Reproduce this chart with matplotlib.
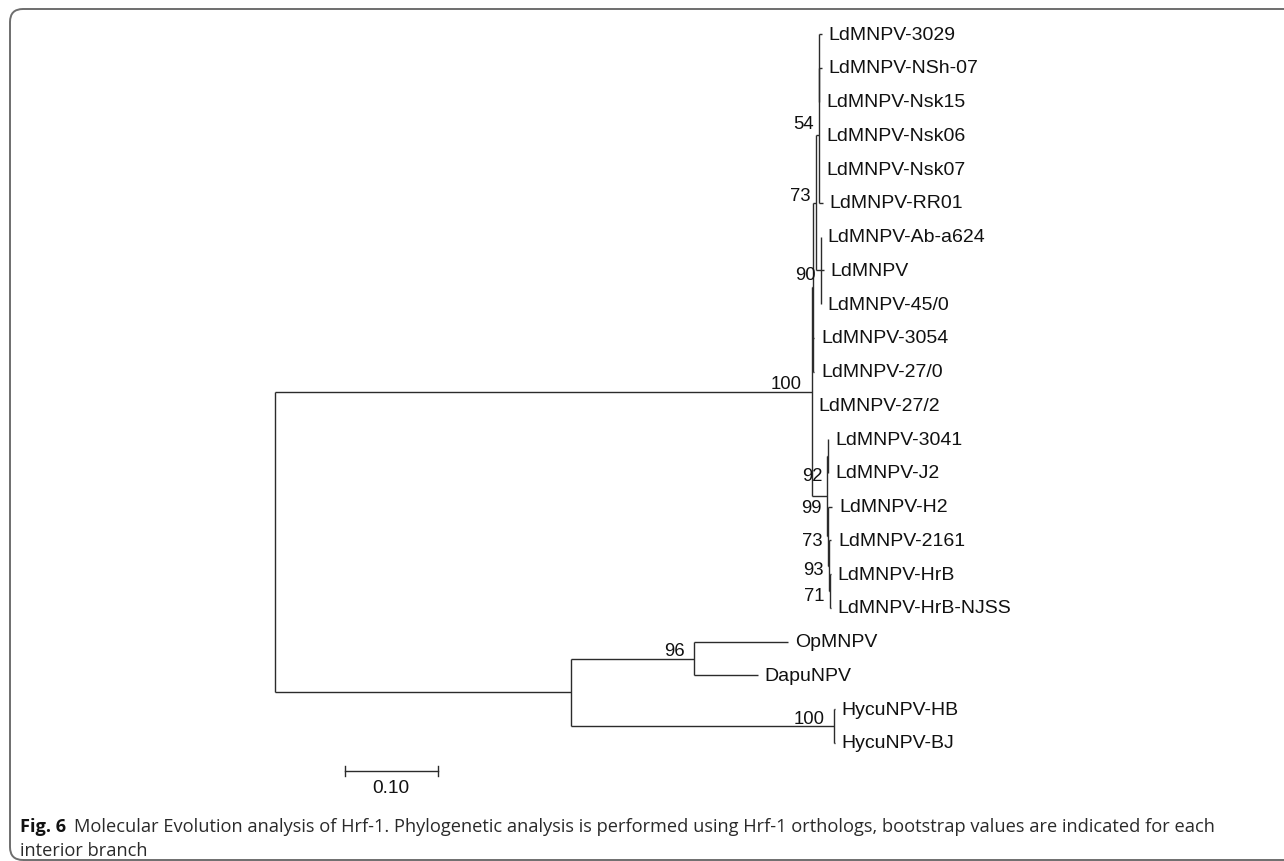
import matplotlib
matplotlib.use('Agg')
import matplotlib.pyplot as plt
from matplotlib.patches import FancyBboxPatch
from matplotlib.transforms import IdentityTransform

plt.rcParams['font.family'] = 'Liberation Sans'

# tips, top to bottom
tip_names = ['LdMNPV-3029', 'LdMNPV-NSh-07', 'LdMNPV-Nsk15', 'LdMNPV-Nsk06',
             'LdMNPV-Nsk07', 'LdMNPV-RR01', 'LdMNPV-Ab-a624', 'LdMNPV',
             'LdMNPV-45/0', 'LdMNPV-3054', 'LdMNPV-27/0', 'LdMNPV-27/2',
             'LdMNPV-3041', 'LdMNPV-J2', 'LdMNPV-H2', 'LdMNPV-2161',
             'LdMNPV-HrB', 'LdMNPV-HrB-NJSS', 'OpMNPV', 'DapuNPV',
             'HycuNPV-HB', 'HycuNPV-BJ']
tip_parent = ['Q', 'Q', 'Q', 'A54', 'A54', 'A54', 'B90', 'B90', 'B90',
              'X', 'X', 'Ld', 'L92', 'L92', 'L73', 'L93', 'L71', 'L71',
              'OD', 'OD', 'Hy', 'Hy']
tip_length = [0.003, 0.003, 0.0, 0.0, 0.0, 0.004, 0.0, 0.003, 0.0,
              0.002, 0.002, 0.0, 0.0, 0.0, 0.004, 0.002, 0.001, 0.001,
              0.101, 0.068, 0.001, 0.001]

# internal nodes (parents listed before children)
node_names = ['root', 'Ld', 'X', 'A73', 'A54', 'Q', 'B90', 'L99', 'L92',
              'L73', 'L93', 'L71', 'Out', 'OD', 'Hy']
node_parent = [None, 'root', 'Ld', 'X', 'A73', 'A54', 'A73', 'Ld', 'L99',
               'L99', 'L73', 'L93', 'root', 'Out', 'Out']
node_length = [0.0, 0.577, 0.001, 0.004, 0.003, 0.0, 0.005, 0.017, 0.001,
               0.001, 0.001, 0.0005, 0.318, 0.133, 0.283]
node_support = [None, 100, None, 73, 54, None, 90, 99, 92, 73, 93, 71,
                None, 96, 100]

scale_length = 0.10

# layout: 930 px per substitution unit, root at x=275 px, rows 33.76 px apart
W, H = 1284, 862
px_unit = 930.0
root_px = 275.0
row_px = 33.76
top_px = 35.0

fig = plt.figure(figsize=(W / 100, H / 100), dpi=100)
ax = fig.add_axes([0, 0, 1, 1])
ax.set_xlim(-root_px / px_unit, (W - root_px) / px_unit)
ax.set_ylim((H - top_px) / row_px, -top_px / row_px)
ax.axis('off')

# x positions
nx = {}
for n, p, l in zip(node_names, node_parent, node_length):
    nx[n] = 0.0 if p is None else nx[p] + l
tx = [nx[p] + l for p, l in zip(tip_parent, tip_length)]
ty = list(range(len(tip_names)))

# y positions (children come after parents, so go backwards)
child_y = {n: [] for n in node_names}
for p, y in zip(tip_parent, ty):
    child_y[p].append(y)
ny = {}
for n, p in reversed(list(zip(node_names, node_parent))):
    ny[n] = (min(child_y[n]) + max(child_y[n])) / 2
    if p is not None:
        child_y[p].append(ny[n])

lc = '#2b2b2b'
lw = 1.0

# branches
for p, x, y in zip(tip_parent, tx, ty):
    ax.plot([nx[p], x], [y, y], color=lc, lw=lw, solid_capstyle='butt')
for n, p in zip(node_names, node_parent):
    ax.plot([nx[n], nx[n]], [min(child_y[n]), max(child_y[n])], color=lc,
            lw=lw, solid_capstyle='butt')
    if p is not None:
        ax.plot([nx[p], nx[n]], [ny[n], ny[n]], color=lc, lw=lw,
                solid_capstyle='butt')

# tip labels
for name, x, y in zip(tip_names, tx, ty):
    ax.annotate(name, (x, y), xytext=(5, 0), textcoords='offset points',
                ha='left', va='center', fontsize=14, color='#111111')

# bootstrap values; crowded ones get nudged like the original layout
label_dy = {'A54': -11.5, 'A73': -8, 'L92': 11, 'L99': 5}
for n, l, s in zip(node_names, node_length, node_support):
    if s is None:
        continue
    if l * px_unit > 30:
        ax.annotate(str(s), (nx[n], ny[n]), xytext=(-7, 2.5),
                    textcoords='offset points', ha='right', va='baseline',
                    fontsize=13.3, color='#111111')
    else:
        dy = -3 - label_dy.get(n, 0)
        ax.annotate(str(s), (nx[n], ny[n]), xytext=(-4, dy),
                    textcoords='offset points', ha='right', va='center',
                    fontsize=13.3, color='#111111')

# scale bar
sx0 = 0.075
sy = len(tip_names) - 1 + 0.83
ax.plot([sx0, sx0 + scale_length], [sy, sy], color=lc, lw=lw)
for xx in (sx0, sx0 + scale_length):
    ax.plot([xx, xx], [sy - 0.15, sy + 0.15], color=lc, lw=lw)
ax.annotate('%.2f' % scale_length, (sx0 + scale_length / 2, sy),
            xytext=(0, -6), textcoords='offset points', ha='center',
            va='top', fontsize=13.8, color='#111111')

# panel frame
frame = FancyBboxPatch((10, 1), 1320, 851,
                       boxstyle='round,pad=0,rounding_size=13',
                       transform=IdentityTransform(), fill=False,
                       ec='#6e6e6e', lw=1.4)
fig.add_artist(frame)

# caption
cap_font = 'Open Sans'
cap_size = 13.15
t1 = fig.text(20 / W, 1 - 827 / H, 'Fig. 6', fontsize=cap_size,
              fontweight='bold', family=cap_font, color='#111111',
              ha='left', va='center')
fig.canvas.draw()
bb = t1.get_window_extent()
fig.text((bb.x1 + 8) / W, 1 - 827 / H,
         'Molecular Evolution analysis of Hrf-1. Phylogenetic analysis is '
         'performed using Hrf-1 orthologs, bootstrap values are indicated '
         'for each', fontsize=cap_size, family=cap_font, color='#2a2a2a',
         ha='left', va='center')
fig.text(20 / W, 1 - 851 / H, 'interior branch', fontsize=cap_size,
         family=cap_font, color='#2a2a2a', ha='left', va='center')

fig.savefig('out.png', dpi=100)
